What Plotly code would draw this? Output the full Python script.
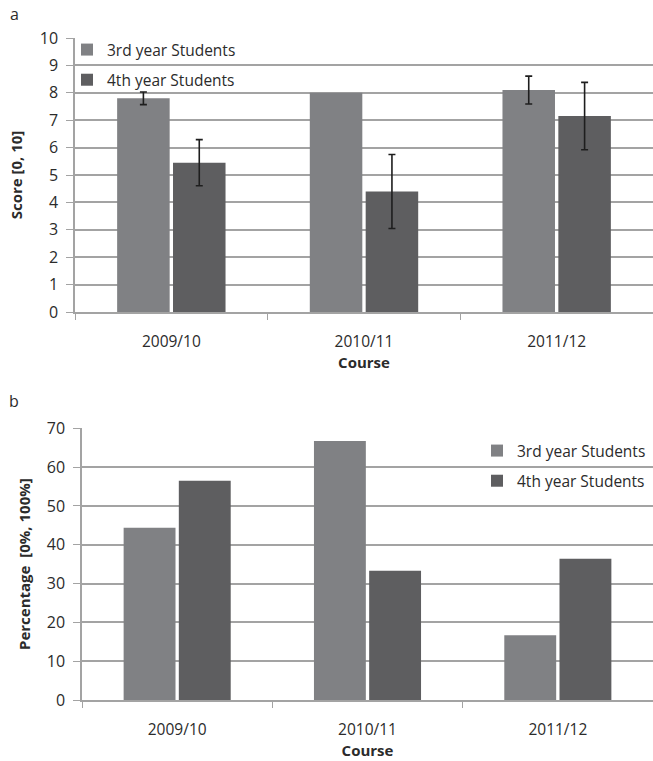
import plotly.graph_objects as go

courses = ["2009/10", "2010/11", "2011/12"]
series_names = ["3rd year Students", "4th year Students"]

score_3rd = [7.8, 8.0, 8.1]
score_3rd_err = [0.23, None, 0.51]
score_4th = [5.45, 4.4, 7.15]
score_4th_err = [0.84, 1.35, 1.23]

pct_3rd = [44.4, 66.7, 16.7]
pct_4th = [56.5, 33.3, 36.4]

y_ticks_a = list(range(0, 11))
y_ticks_b = list(range(0, 71, 10))

C3 = "#808184"
C4 = "#5e5e60"
GRID = "#a3a3a3"
TXT = "#2b2b2b"
FONT = "Open Sans"
W, H = 653, 761

fig = go.Figure()

err_style = dict(type="data", visible=True, color="#1e1e1e", thickness=1.6, width=3.5)


def with_err_only(vals, errs):
    return [v if e is not None else None for v, e in zip(vals, errs)]


fig.add_trace(go.Bar(x=courses, y=score_3rd, name=series_names[0], marker_color=C3,
                     offsetgroup="g3", legendgroup="a3",
                     xaxis="x", yaxis="y", legend="legend"))
fig.add_trace(go.Bar(x=courses, y=score_4th, name=series_names[1], marker_color=C4,
                     offsetgroup="g4", legendgroup="a4",
                     xaxis="x", yaxis="y", legend="legend"))
# error bars carried by overlaid transparent bars in the same offset groups
fig.add_trace(go.Bar(x=courses, y=with_err_only(score_3rd, score_3rd_err), showlegend=False,
                     marker_color="rgba(0,0,0,0)", offsetgroup="g3", hoverinfo="skip",
                     error_y=dict(array=[e if e is not None else 0 for e in score_3rd_err], **err_style),
                     xaxis="x", yaxis="y"))
fig.add_trace(go.Bar(x=courses, y=with_err_only(score_4th, score_4th_err), showlegend=False,
                     marker_color="rgba(0,0,0,0)", offsetgroup="g4", hoverinfo="skip",
                     error_y=dict(array=score_4th_err, **err_style),
                     xaxis="x", yaxis="y"))
fig.add_trace(go.Bar(x=courses, y=pct_3rd, name=series_names[0], marker_color=C3,
                     offsetgroup="h3", legendgroup="b3",
                     xaxis="x2", yaxis="y2", legend="legend2"))
fig.add_trace(go.Bar(x=courses, y=pct_4th, name=series_names[1], marker_color=C4,
                     offsetgroup="h4", legendgroup="b4",
                     xaxis="x2", yaxis="y2", legend="legend2"))

for t in fig.data:
    t.marker.line.width = 0


def px_x(p):
    return p / W


def px_y(p):
    return 1 - p / H


xcommon = dict(type="category", tickson="boundaries", ticks="outside", ticklen=6,
               tickcolor=GRID, tickwidth=1.2, showline=True, linecolor=GRID, linewidth=1.5,
               showgrid=False, automargin=False, ticklabelstandoff=15,
               tickfont=dict(family=FONT, size=15.5, color=TXT),
               title_font=dict(family=FONT, size=15, color=TXT))
ycommon = dict(showline=True, linecolor=GRID, linewidth=1.5, ticks="outside", ticklen=7,
               tickcolor=GRID, tickwidth=1.2, showgrid=True, gridcolor=GRID, gridwidth=1.5,
               zeroline=False, automargin=False, tickfont=dict(family=FONT, size=16, color=TXT),
               title_font=dict(family=FONT, size=15, color=TXT), ticklabelstandoff=5)

fig.update_layout(
    width=W, height=H,
    margin=dict(l=0, r=0, t=0, b=0),
    paper_bgcolor="white", plot_bgcolor="white",
    barmode="group", bargap=0.42, bargroupgap=0.06,
    font=dict(family=FONT, size=15, color=TXT),
    xaxis=dict(domain=[px_x(75), 1.0], anchor="y",
               title=dict(text="<b>Course</b>", standoff=0), **xcommon),
    yaxis=dict(domain=[px_y(312), px_y(38)], anchor="x", range=[0, 10],
               tickvals=y_ticks_a, title=dict(text="<b>Score [0, 10]</b>", standoff=14), **ycommon),
    xaxis2=dict(domain=[px_x(82), 1.0], anchor="y2",
                title=dict(text="<b>Course</b>", standoff=0), **xcommon),
    yaxis2=dict(domain=[px_y(700), px_y(428.3)], anchor="x2", range=[0, 70],
                tickvals=y_ticks_b, title=dict(text="<b>Percentage  [0%, 100%]</b>", standoff=12), **ycommon),
    legend=dict(x=px_x(67), y=px_y(33), xanchor="left", yanchor="top",
                bgcolor="rgba(0,0,0,0)", font=dict(family=FONT, size=15.5, color=TXT),
                traceorder="grouped", itemwidth=30, tracegroupgap=7),
    legend2=dict(x=px_x(477), y=px_y(434), xanchor="left", yanchor="top",
                 bgcolor="rgba(0,0,0,0)", font=dict(family=FONT, size=15.5, color=TXT),
                 traceorder="grouped", itemwidth=30, tracegroupgap=7),
    annotations=[
        dict(text="a", x=px_x(14), y=px_y(14), xref="paper", yref="paper", showarrow=False,
             xanchor="center", yanchor="middle", font=dict(family=FONT, size=16, color=TXT)),
        dict(text="b", x=px_x(14), y=px_y(401), xref="paper", yref="paper", showarrow=False,
             xanchor="center", yanchor="middle", font=dict(family=FONT, size=16, color=TXT)),
    ],
)

fig.write_html("out.html", config={"displayModeBar": False},
               post_script="document.body.style.margin='0';")
